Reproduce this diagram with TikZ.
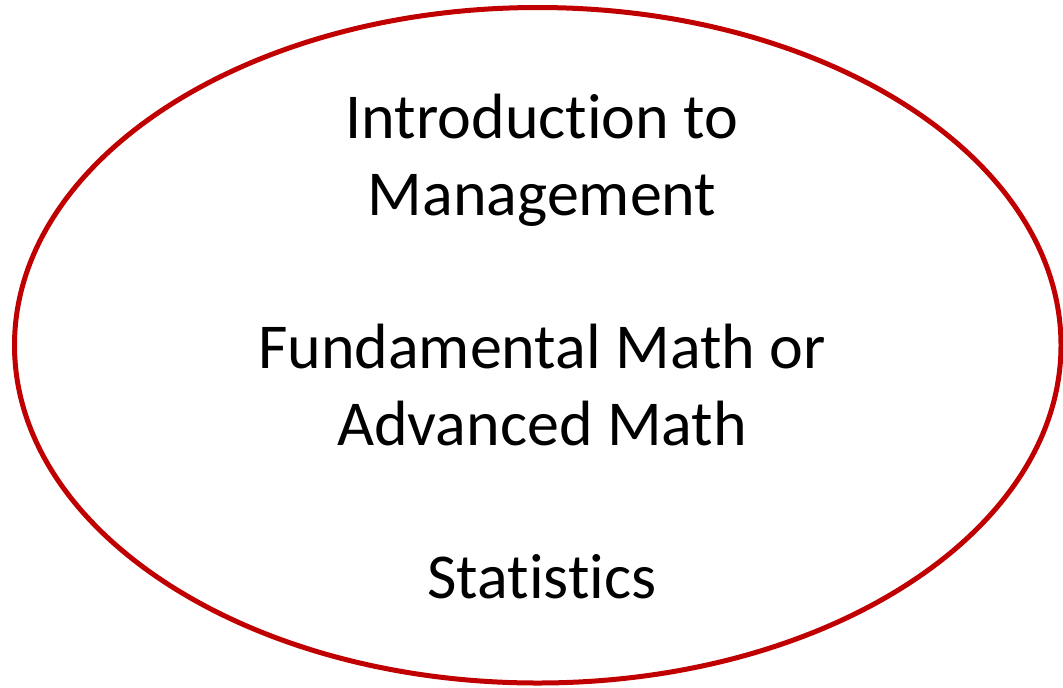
\documentclass[tikz,border=0pt]{standalone}
\usepackage{fontspec}
\setmainfont[Ligatures=NoCommon]{Carlito}
\definecolor{ovalred}{HTML}{C00000}
\begin{document}
\begin{tikzpicture}[x=0.75pt,y=-0.75pt,
  lbl/.style={anchor=base,inner sep=0pt,font=\fontsize{48}{57.75}\selectfont,text=black}]
\useasboundingbox (0,0) rectangle (1063,687);
\coordinate (c) at (537.75,345.25);
\draw[ovalred,line width=3.75pt] (c) ellipse [x radius=392.44pt, y radius=253.31pt];
\node[lbl] (l1) at (542,138) {Introduction to};
\node[lbl] (l2) at (542,215) {Management};
\node[lbl] (l3) at (542,368) {Fundamental Math or};
\node[lbl] (l4) at (542,445) {Advanced Math};
\node[lbl] (l5) at (542,598) {Statistics};
\end{tikzpicture}
\end{document}
